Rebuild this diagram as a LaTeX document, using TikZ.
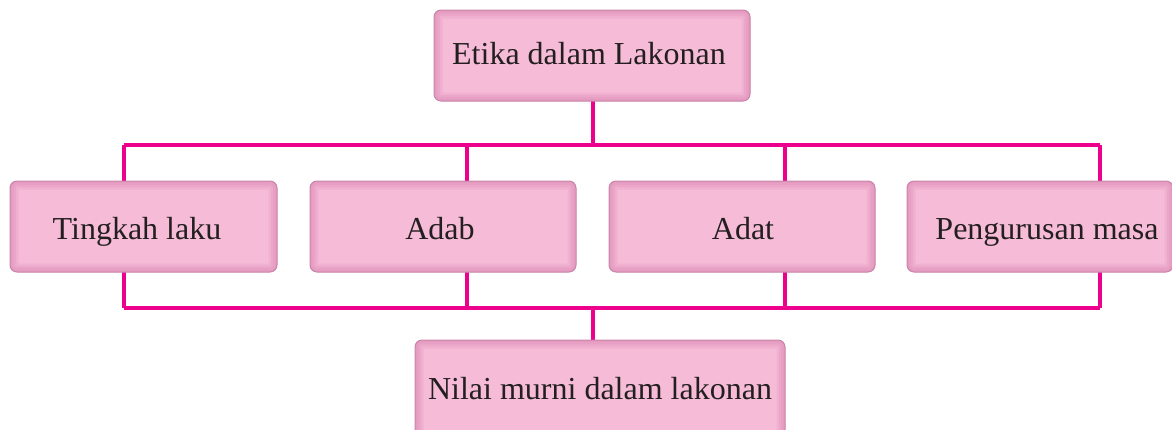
\documentclass[tikz,border=0pt]{standalone}
\usepackage{fontspec}
\setmainfont{Liberation Serif}
\definecolor{linkpink}{HTML}{EC008C}
\definecolor{boxfill}{HTML}{F6BBD7}
\definecolor{boxedge}{HTML}{C884A9}
\definecolor{boxglow}{HTML}{DD8AB6}
\definecolor{txt}{HTML}{231F20}
\tikzset{glowring/.style={boxglow,opacity=0.22,rounded corners=7pt}}
\begin{document}
\begin{tikzpicture}[x=1pt,y=-1pt,
  topic/.style={draw=boxedge,line width=1pt,fill=boxfill,rounded corners=7pt,
    inner sep=0pt,
    path picture={
      \foreach \w in {4,8,12,17}{
      \draw[glowring,line width=\w pt]
      (path picture bounding box.south west) rectangle (path picture bounding box.north east);}}},
  label/.style={text=txt,inner sep=0pt,anchor=base,font=\fontsize{32}{36}\selectfont},
  link/.style={draw=linkpink,line width=4.5pt}]
\useasboundingbox (0,0) rectangle (1172,429);
\clip (0,0) rectangle (1172,429);
% connectors (behind boxes)
\coordinate (t) at (593,145);
\coordinate (l1) at (124,145);
\coordinate (r1) at (1100,145);
\coordinate (l2) at (124,308);
\coordinate (r2) at (1100,308);
\coordinate (a2) at (467,308);
\coordinate (b2) at (785,308);
\coordinate (a1) at (467,145);
\coordinate (b1) at (785,145);
\coordinate (m2) at (593,308);
\coordinate (topb) at (593,101);
\coordinate (botb) at (593,340);
\draw[link] (topb) -- (t);
\draw[link] (l1) -- (r1);
\draw[link] (l2) -- (r2);
\draw[link] (l1) -- (l2);
\draw[link] (a1) -- (a2);
\draw[link] (b1) -- (b2);
\draw[link] (r1) -- (r2);
\draw[link] (m2) -- (botb);
% boxes
\node[topic,minimum width=316pt,minimum height=91pt] (top) at (592,55.5) {};
\node[topic,minimum width=267pt,minimum height=91pt] (n1) at (143.5,226.5) {};
\node[topic,minimum width=266pt,minimum height=91pt] (n2) at (443,226.5) {};
\node[topic,minimum width=266pt,minimum height=91pt] (n3) at (742,226.5) {};
\node[topic,minimum width=266pt,minimum height=91pt] (n4) at (1040,226.5) {};
\node[topic,minimum width=370pt,minimum height=100pt] (bot) at (600,390) {};
% labels
\node[label] (toplabel) at (589,64) {Etika dalam Lakonan};
\node[label] (n1label) at (137,239) {Tingkah laku};
\node[label] (n2label) at (440,239) {Adab};
\node[label] (n3label) at (743,239) {Adat};
\node[label] (n4label) at (1047,239) {Pengurusan masa};
\node[label] (botlabel) at (600,399) {Nilai murni dalam lakonan};
\end{tikzpicture}
\end{document}
